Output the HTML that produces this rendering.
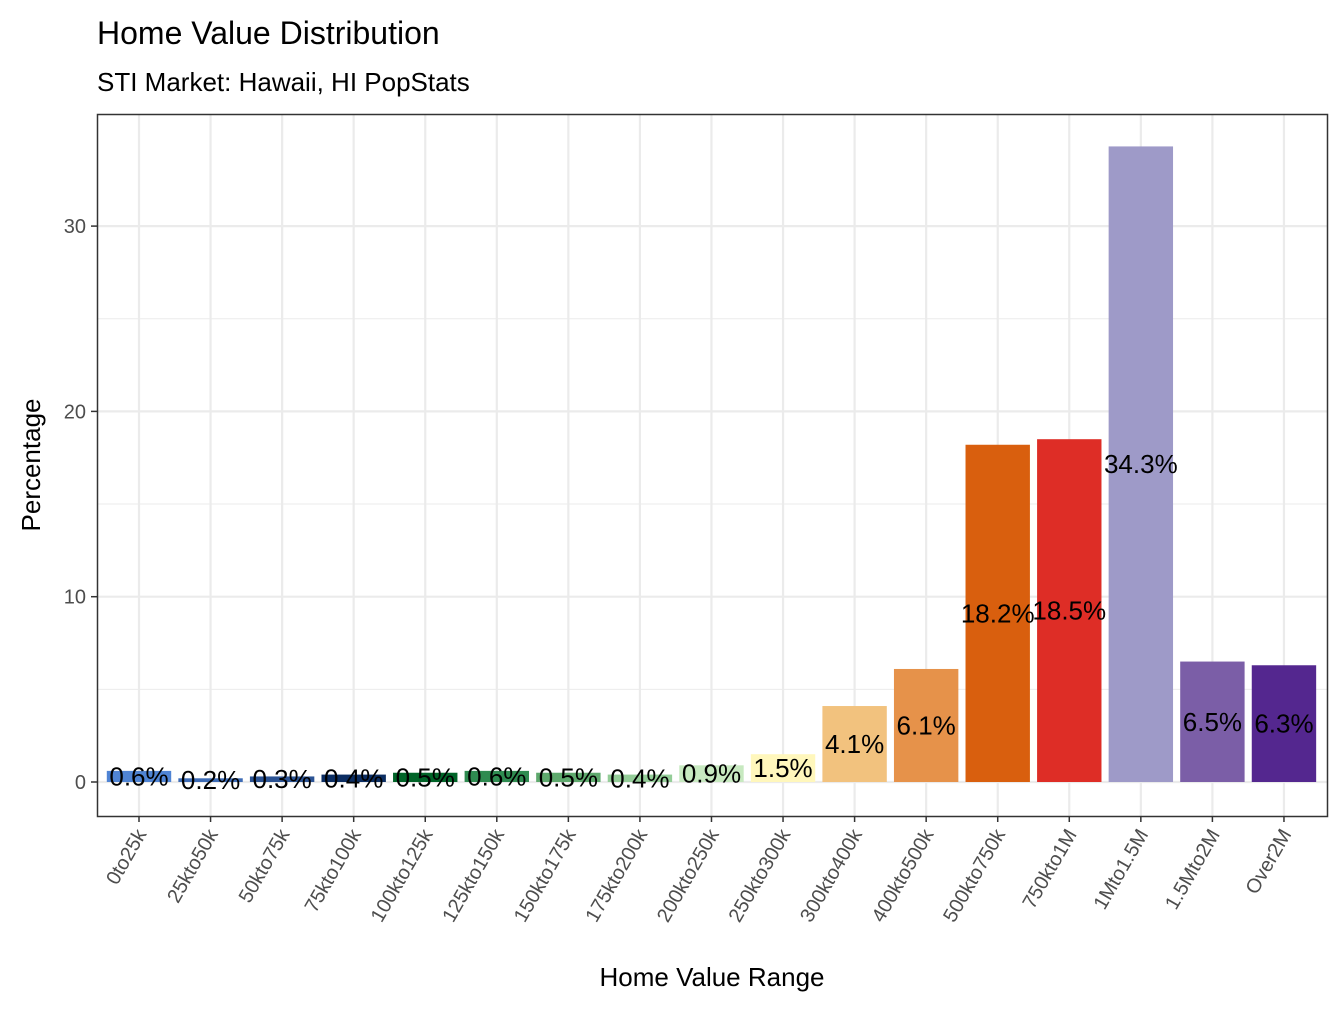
<!DOCTYPE html>
<html><head><meta charset="utf-8"><style>
body{margin:0;background:#fff;}
svg{font-family:"Liberation Sans",Arial,sans-serif;}
</style></head><body>
<svg id="chart" width="1344" height="1008" viewBox="0 0 1344 1008" xmlns="http://www.w3.org/2000/svg">
<rect width="1344" height="1008" fill="#fff"/>
<text x="97" y="44" font-size="32" fill="#000">Home Value Distribution</text>
<text x="97" y="91" font-size="26" fill="#000">STI Market: Hawaii, HI PopStats</text>
<g id="grid"></g><g id="bars"></g><g id="labels"></g><g id="axes"></g>
<rect x="97.5" y="114.5" width="1230" height="702" fill="none" stroke="#333" stroke-width="1.5"/>
<text x="712" y="986" font-size="26" text-anchor="middle" fill="#000">Home Value Range</text>
<text transform="translate(40,465) rotate(-90)" font-size="26" text-anchor="middle" fill="#000">Percentage</text>
</svg>
<script>
const categories=["0to25k","25kto50k","50kto75k","75kto100k","100kto125k","125kto150k","150kto175k","175kto200k","200kto250k","250kto300k","300kto400k","400kto500k","500kto750k","750kto1M","1Mto1.5M","1.5Mto2M","Over2M"];
const values=[0.6,0.2,0.3,0.4,0.5,0.6,0.5,0.4,0.9,1.5,4.1,6.1,18.2,18.5,34.3,6.5,6.3];
const colors=["#4f84d4","#3e6cb6","#2b5394","#0b2d62","#006428","#2e8b50","#5ea96d","#94cd98","#c7e9c0","#fff7bc","#f2c27e","#e6924a","#d95f0e","#de2d26","#9e9ac8","#7b5ea7","#54278f"];
const yTicks=[0,10,20,30];
const yMinor=[5,15,25];
const NS="http://www.w3.org/2000/svg";
const y=v=>782-v*18.53;
const x=i=>139+i*71.56;
const bw=64.4;
function mk(tag,attrs,parent){const e=document.createElementNS(NS,tag);for(const k in attrs)e.setAttribute(k,attrs[k]);document.getElementById(parent).appendChild(e);return e;}
yMinor.forEach(v=>{const l=mk('line',{x1:97,x2:1328,y1:y(v),y2:y(v),stroke:'#ebebeb','stroke-width':1},'grid');

});
yTicks.forEach(v=>{const l=mk('line',{x1:97,x2:1328,y1:y(v),y2:y(v),stroke:'#ebebeb','stroke-width':2.2},'grid');


const t=mk('line',{x1:91,x2:97,y1:y(v),y2:y(v),stroke:'#333','stroke-width':1.5},'axes');


const tx=mk('text',{x:86,y:y(v)+7,'font-size':20,'text-anchor':'end',fill:'#4d4d4d'},'axes');


tx.textContent=v;});
categories.forEach((c,i)=>{
const g=mk('line',{x1:x(i),x2:x(i),y1:114,y2:816,stroke:'#ebebeb','stroke-width':2.2},'grid');


const r=mk('rect',{x:x(i)-bw/2,y:y(values[i]),width:bw,height:782-y(values[i]),fill:colors[i]},'bars');


const lb=mk('text',{x:x(i),y:y(values[i]/2)+9,'font-size':26,'text-anchor':'middle',fill:'#000'},'labels');


lb.textContent=values[i].toFixed(1)+'%';
const t=mk('line',{x1:x(i),x2:x(i),y1:816,y2:822,stroke:'#333','stroke-width':1.5},'axes');


const tx=mk('text',{transform:`translate(${x(i)+8},834) rotate(-60)`,'font-size':20,'text-anchor':'end',fill:'#4d4d4d'},'axes');


tx.textContent=c;});
</script>
</body></html>
